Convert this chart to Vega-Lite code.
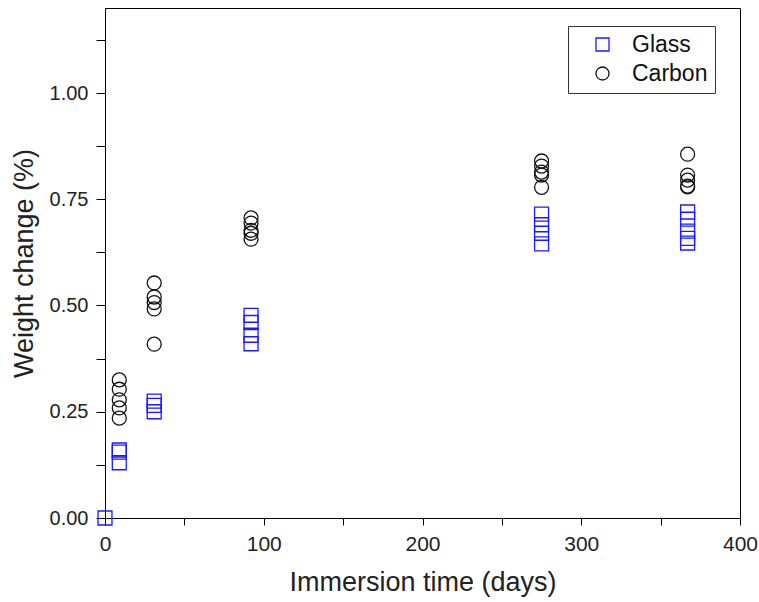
{
  "$schema": "https://vega.github.io/schema/vega-lite/v6.json",
  "autosize": "none",
  "width": 635,
  "height": 510,
  "padding": {"left": 105, "top": 8, "right": 19, "bottom": 84},
  "background": "white",
  "config": {
    "view": {"stroke": "black", "strokeWidth": 1},
    "font": "Liberation Sans, Arial, sans-serif"
  },
  "data": {
    "values": [
      {"material": "Glass", "days": 0, "wc": 0},
      {"material": "Glass", "days": 9, "wc": 0.16},
      {"material": "Glass", "days": 9, "wc": 0.155},
      {"material": "Glass", "days": 9, "wc": 0.13},
      {"material": "Glass", "days": 31, "wc": 0.275},
      {"material": "Glass", "days": 31, "wc": 0.265},
      {"material": "Glass", "days": 31, "wc": 0.25},
      {"material": "Glass", "days": 92, "wc": 0.477},
      {"material": "Glass", "days": 92, "wc": 0.46},
      {"material": "Glass", "days": 92, "wc": 0.43},
      {"material": "Glass", "days": 92, "wc": 0.41},
      {"material": "Glass", "days": 275, "wc": 0.715},
      {"material": "Glass", "days": 275, "wc": 0.69},
      {"material": "Glass", "days": 275, "wc": 0.67},
      {"material": "Glass", "days": 275, "wc": 0.645},
      {"material": "Glass", "days": 367, "wc": 0.72},
      {"material": "Glass", "days": 367, "wc": 0.703},
      {"material": "Glass", "days": 367, "wc": 0.675},
      {"material": "Glass", "days": 367, "wc": 0.658},
      {"material": "Glass", "days": 367, "wc": 0.647},
      {"material": "Carbon", "days": 9, "wc": 0.325},
      {"material": "Carbon", "days": 9, "wc": 0.303},
      {"material": "Carbon", "days": 9, "wc": 0.278},
      {"material": "Carbon", "days": 9, "wc": 0.259},
      {"material": "Carbon", "days": 9, "wc": 0.235},
      {"material": "Carbon", "days": 31, "wc": 0.553},
      {"material": "Carbon", "days": 31, "wc": 0.52},
      {"material": "Carbon", "days": 31, "wc": 0.507},
      {"material": "Carbon", "days": 31, "wc": 0.492},
      {"material": "Carbon", "days": 31, "wc": 0.409},
      {"material": "Carbon", "days": 92, "wc": 0.706},
      {"material": "Carbon", "days": 92, "wc": 0.694},
      {"material": "Carbon", "days": 92, "wc": 0.677},
      {"material": "Carbon", "days": 92, "wc": 0.67},
      {"material": "Carbon", "days": 92, "wc": 0.656},
      {"material": "Carbon", "days": 275, "wc": 0.84},
      {"material": "Carbon", "days": 275, "wc": 0.828},
      {"material": "Carbon", "days": 275, "wc": 0.814},
      {"material": "Carbon", "days": 275, "wc": 0.807},
      {"material": "Carbon", "days": 275, "wc": 0.778},
      {"material": "Carbon", "days": 367, "wc": 0.856},
      {"material": "Carbon", "days": 367, "wc": 0.807},
      {"material": "Carbon", "days": 367, "wc": 0.795},
      {"material": "Carbon", "days": 367, "wc": 0.781},
      {"material": "Carbon", "days": 367, "wc": 0.779}
    ]
  },
  "mark": {"type": "point", "filled": false, "strokeWidth": 1.3, "size": 195, "opacity": 1},
  "encoding": {
    "x": {
      "field": "days", "type": "quantitative",
      "scale": {"domain": [0, 400], "nice": false, "zero": false},
      "axis": {
        "title": "Immersion time (days)",
        "values": [0, 50, 100, 150, 200, 250, 300, 350, 400],
        "labelExpr": "datum.value % 100 == 0 ? datum.label : ''",
        "format": "d",
        "labelFlush": false,
        "grid": false,
        "domainColor": "black", "tickColor": "black", "tickSize": 7,
        "labelColor": "#222", "labelFontSize": 21, "labelPadding": 8,
        "titleFontSize": 27, "titleFontWeight": "normal", "titleColor": "#222", "titlePadding": 15
      }
    },
    "y": {
      "field": "wc", "type": "quantitative",
      "scale": {"domain": [0, 1.2], "nice": false, "zero": false},
      "axis": {
        "title": "Weight change (%)",
        "values": [0, 0.125, 0.25, 0.375, 0.5, 0.625, 0.75, 0.875, 1, 1.125],
        "labelExpr": "datum.value % 0.25 == 0 ? format(datum.value, '.2f') : ''",
        "grid": false,
        "domainColor": "black", "tickColor": "black", "tickSize": 9,
        "labelColor": "#222", "labelFontSize": 20, "labelPadding": 8,
        "titleFontSize": 27, "titleFontWeight": "normal", "titleColor": "#222", "titlePadding": 11
      }
    },
    "color": {
      "field": "material", "type": "nominal",
      "scale": {"domain": ["Glass", "Carbon"], "range": ["#1a1aff", "#111111"]},
      "legend": {
        "title": null, "orient": "none", "legendX": 463, "legendY": 18,
        "strokeColor": "#333", "padding": 7, "fillColor": "white",
        "labelFontSize": 23, "labelColor": "#111", "symbolSize": 170, "symbolStrokeWidth": 1.3,
        "symbolOffset": 16, "labelOffset": 18, "rowPadding": 5, "labelLimit": 200
      }
    },
    "shape": {
      "field": "material", "type": "nominal",
      "scale": {"domain": ["Glass", "Carbon"], "range": ["square", "circle"]}
    }
  }
}
